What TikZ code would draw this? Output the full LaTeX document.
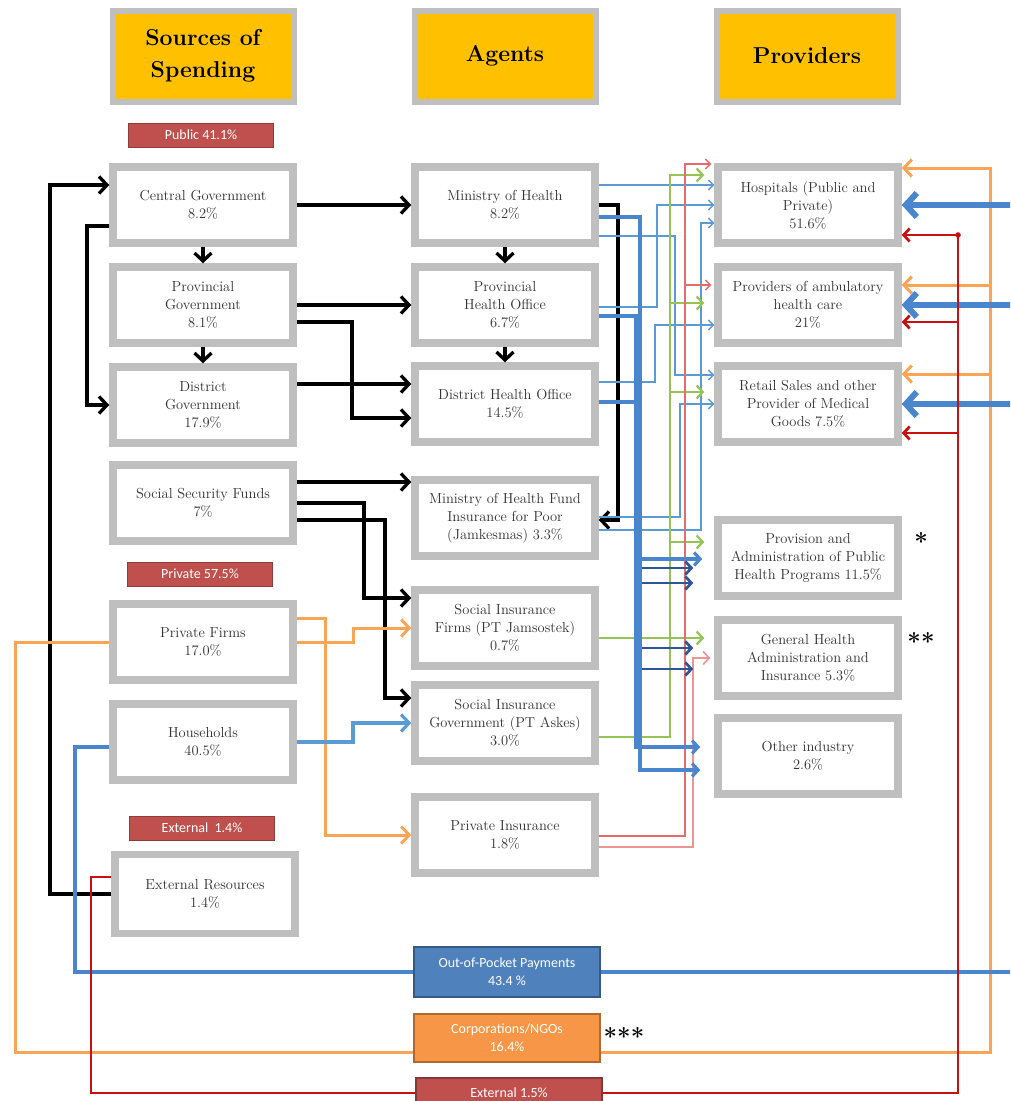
\documentclass[tikz,border=0pt]{standalone}
\usepackage{fontspec}
\usetikzlibrary{arrows.meta}
\newfontfamily\calib{Carlito}
\definecolor{boxgray}{RGB}{191,191,191}
\definecolor{headyellow}{RGB}{255,192,0}
\definecolor{tagred}{RGB}{192,80,77}
\definecolor{oopblue}{RGB}{79,129,189}
\definecolor{corporange}{RGB}{247,150,70}
\definecolor{lineorange}{RGB}{250,165,85}
\definecolor{lineblue}{RGB}{74,134,205}
\definecolor{thinblue}{RGB}{91,155,213}
\definecolor{darkblue}{RGB}{47,85,151}
\definecolor{linegreen}{RGB}{150,195,85}
\definecolor{linepink}{RGB}{228,108,108}
\definecolor{lightpink}{RGB}{236,150,148}
\definecolor{linered}{RGB}{200,16,16}
\definecolor{textgray}{RGB}{50,50,50}
\begin{document}
\begin{tikzpicture}[x=1pt, y=-1pt,
    cell/.style={draw=boxgray, line width=7.5pt, fill=white, text=textgray, minimum width=180pt, minimum height=76pt, align=center, inner sep=1pt, font=\fontsize{14.5}{18}\selectfont},
    head/.style={draw=boxgray, line width=6pt, fill=headyellow, minimum width=181pt, minimum height=91pt, align=center, font=\fontsize{23}{32}\selectfont\bfseries},
    tag/.style={draw=tagred!75!black, line width=1pt, fill=tagred, text=white, minimum width=145pt, minimum height=24pt, inner sep=0pt, font=\calib\fontsize{14}{15}\selectfont},
    flowbox/.style={draw=#1!70!black, line width=1.2pt, fill=#1, text=white, minimum width=186pt, align=center, inner sep=0pt, font=\calib\fontsize{14}{18}\selectfont},
    starnote/.style={inner sep=0pt, font=\fontsize{24}{24}\selectfont\bfseries},
    tipS/.style={-{Straight Barb[length=5pt,width=10pt]}},
    tipM/.style={-{Straight Barb[length=6pt,width=13pt]}},
    tipL/.style={-{Straight Barb[length=8pt,width=17pt]}},
    tipXL/.style={-{Straight Barb[length=11pt,width=24pt]}},
    blk/.style={line width=3.3pt, black, tipL},
    org/.style={line width=3pt, lineorange},
    oopline/.style={line width=3.6pt, lineblue},
    hhb/.style={line width=3.2pt, thinblue},
    redl/.style={line width=2.8pt, linered},
    thinb/.style={line width=1.3pt, thinblue, tipS},
    midb/.style={line width=3.2pt, lineblue, tipM},
    darkb/.style={line width=2.7pt, darkblue, tipM},
    grn/.style={line width=2.3pt, linegreen, tipM, shorten >=10pt},
    pnk/.style={line width=1.4pt, linepink, tipS, shorten >=3pt},
    lpnk/.style={line width=1.6pt, lightpink, tipM, shorten >=4pt}]
    \useasboundingbox (0,0) rectangle (1010,1101);
    \clip (0,0) rectangle (1010,1101);
    \coordinate (edge) at (1016,0);
    \node[head] (hsrc) at (203,56) {Sources of\\Spending};
    \node[head] (hagt) at (505,56) {Agents};
    \node[head] (hprv) at (807,56) {Providers};
    \node[tag] (tpub) at (201,135) {Public 41.1\%};
    \node[tag] (tpriv) at (200,574) {Private 57.5\%};
    \node[tag] (text) at (202,828) {External~ 1.4\%};
    \node[cell] (cg) at (203,205) {Central Government\\8.2\%};
    \node[cell] (pg) at (203,305) {Provincial\\Government\\8.1\%};
    \node[cell] (dg) at (203,405) {District\\Government\\17.9\%};
    \node[cell] (ssf) at (203,503) {Social Security Funds\\7\%};
    \node[cell] (pf) at (203,642) {Private Firms\\17.0\%};
    \node[cell] (hh) at (203,742) {Households\\40.5\%};
    \node[cell, minimum height=79pt] (extres) at (205,894) {External Resources\\1.4\%};
    \node[cell] (mh) at (505,205) {Ministry of Health\\8.2\%};
    \node[cell] (pho) at (505,305) {Provincial\\Health Office\\6.7\%};
    \node[cell] (dho) at (505,404) {District Health Office\\14.5\%};
    \node[cell] (mhf) at (505,518) {Ministry of Health Fund\\Insurance for Poor\\(Jamkesmas) 3.3\%};
    \node[cell] (sif) at (505,628) {Social Insurance\\Firms (PT Jamsostek)\\0.7\%};
    \node[cell] (sig) at (505,723) {Social Insurance\\Government (PT Askes)\\3.0\%};
    \node[cell] (pi) at (505,835) {Private Insurance\\1.8\%};
    \node[cell] (hosp) at (808,205) {Hospitals (Public and\\Private)\\51.6\%};
    \node[cell] (amb) at (808,305) {Providers of ambulatory\\health care\\21\%};
    \node[cell] (retail) at (808,404) {Retail Sales and other\\Provider of Medical\\Goods 7.5\%};
    \node[cell] (prov) at (808,558) {Provision and\\Administration of Public\\Health Programs 11.5\%};
    \node[cell] (gha) at (808,658) {General Health\\Administration and\\Insurance 5.3\%};
    \node[cell] (other) at (808,756) {Other industry\\2.6\%};
    \node[flowbox=oopblue, minimum height=50pt] (oop) at (507,972) {Out-of-Pocket Payments\\43.4 \%};
    \node[flowbox=corporange, minimum height=48pt] (corp) at (507,1038) {Corporations/NGOs\\16.4\%};
    \node[flowbox=tagred, minimum height=30pt] (ext15) at (509,1093) {External 1.5\%};
    \node[starnote] (st1) at (921,541) {*};
    \node[starnote] (st2) at (921,641) {**};
    \node[starnote] (st3) at (624,1036) {***};
    \draw[blk] (cg.east) -- (mh.west);
    \draw[blk] (cg.south) -- (pg.north);
    \draw[blk] (pg.south) -- (dg.north);
    \draw[blk] (cg.west |- 0,226) -| (87,405) -- (dg.west);
    \draw[blk] (extres.west) -| (50,185) -- (cg.west |- 0,185);
    \draw[blk] (pg.east) -- (pho.west);
    \draw[blk] (pg.east |- 0,322) -| (352,418) -- (dho.west |- 0,418);
    \draw[blk] (dg.east |- 0,384) -- (dho.west |- 0,384);
    \draw[blk] (mh.south) -- (pho.north);
    \draw[blk] (pho.south) -- (dho.north);
    \draw[blk] (mh.east) -| (618,520) -- (mhf.east |- 0,520);
    \draw[blk] (ssf.east |- 0,482) -- (mhf.west |- 0,482);
    \draw[blk] (ssf.east) -| (364,598) -- (sif.west |- 0,598);
    \draw[blk] (ssf.east |- 0,520) -| (385,698) -- (sig.west |- 0,698);
    \draw[org, tipL] (pf.east |- 0,618) -| (325,835) -- (pi.west);
    \draw[org, tipL] (pf.east) -| (353,628) -- (sif.west);
    \draw[org] (pf.west) -| (15,1052) -- (corp.west |- 0,1052);
    \draw[org, tipL] (corp.east |- 0,1052) -| (990,168) -- (hosp.east |- 0,168);
    \draw[org, tipL] (corp.east |- 0,1052) -| (990,285) -- (amb.east |- 0,285);
    \draw[org, tipL] (corp.east |- 0,1052) -| (990,374) -- (retail.east |- 0,374);
    \draw[hhb, tipL] (hh.east) -| (353,723) -- (sig.west);
    \draw[oopline] (hh.west |- 0,747) -| (75,972) -- (oop.west);
    \draw[oopline] (oop.east) -- (oop.east -| edge);
    \draw[oopline, line width=6pt, tipXL] (edge |- hosp.east) -- (hosp.east);
    \draw[oopline, line width=6pt, tipXL] (edge |- amb.east) -- (amb.east);
    \draw[oopline, line width=6pt, tipXL] (edge |- retail.east) -- (retail.east);
    \draw[redl] (extres.west |- 0,877) -| (91,1093) -- (ext15.west);
    \draw[redl, tipM] (ext15.east) -| (958,235) -- (hosp.east |- 0,235);
    \draw[redl, tipM] (ext15.east) -| (958,322) -- (amb.east |- 0,322);
    \draw[redl, tipM] (ext15.east) -| (958,433) -- (retail.east |- 0,433);
    \fill[linered] (958,235) circle (2.8pt);
    \draw[thinb] (mh.east |- 0,185) -- (hosp.west |- 0,185);
    \draw[thinb] (mh.east |- 0,236) -| (675,375) -- (retail.west |- 0,375);
    \draw[thinb] (pho.east |- 0,307) -| (657,205) -- (hosp.west);
    \draw[thinb] (dho.east |- 0,382) -| (655,325) -- (amb.west |- 0,325);
    \draw[thinb] (mhf.east |- 0,517) -| (680,404) -- (retail.west);
    \draw[thinb] (mhf.east |- 0,530) -| (701,223) -- (hosp.west |- 0,223);
    \draw[grn] (sif.east |- 0,638) -- (gha.west |- 0,638);
    \draw[grn] (sig.east |- 0,737) -| (670,175) -- (hosp.west |- 0,175);
    \draw[grn] (sig.east |- 0,737) -| (670,303) -- (amb.west |- 0,303);
    \draw[grn] (sig.east |- 0,737) -| (670,392) -- (retail.west |- 0,392);
    \draw[grn] (sig.east |- 0,737) -| (670,542) -- (prov.west |- 0,542);
    \draw[pnk] (pi.east |- 0,836) -| (685,164) -- (hosp.west |- 0,164);
    \draw[pnk] (pi.east |- 0,836) -| (685,285) -- (amb.west |- 0,285);
    \draw[lpnk] (pi.east |- 0,847) -| (693,658) -- (gha.west);
    \draw[darkb, shorten >=21pt] (mh.east |- 0,217) -| (639,568) -- (prov.west |- 0,568);
    \draw[darkb, shorten >=21pt] (mh.east |- 0,217) -| (639,648) -- (gha.west |- 0,648);
    \draw[darkb, shorten >=21pt] (pho.east |- 0,316) -| (639,583) -- (prov.west |- 0,583);
    \draw[darkb, shorten >=21pt] (pho.east |- 0,316) -| (639,669) -- (gha.west |- 0,669);
    \draw[midb, shorten >=12pt] (dho.east |- 0,402) -| (639,559) -- (prov.west |- 0,559);
    \draw[midb, shorten >=14pt] (pho.east |- 0,316) -| (636,747) -- (other.west |- 0,747);
    \draw[midb, shorten >=14pt] (mh.east |- 0,217) -| (640,770) -- (other.west |- 0,770);
\end{tikzpicture}
\end{document}
